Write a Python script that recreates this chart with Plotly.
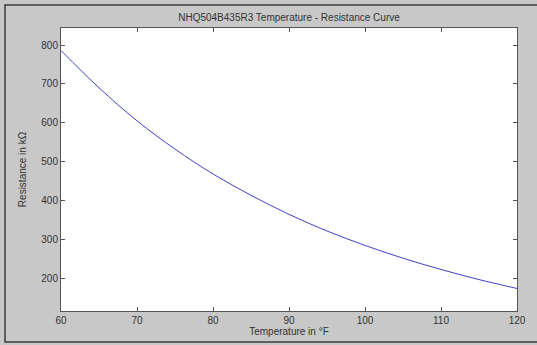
import plotly.graph_objects as go

# Temperature (°F) and resistance (kΩ)
temperature_f = [60, 65, 70, 75, 80, 85, 90, 95, 100, 105, 110, 115, 120]
resistance_kohm = [786, 690, 605, 532, 468, 413, 364, 321, 284, 251, 222, 196, 173]

x_ticks = [60, 70, 80, 90, 100, 110, 120]
y_ticks = [200, 300, 400, 500, 600, 700, 800]

W, H = 537, 345
L, R, T, B = 61, 20, 28, 34
pw, ph = W - L - R, H - T - B

def px(x):
    return (x - L) / pw

def py(y):
    return (H - B - y) / ph

fig = go.Figure()
fig.add_trace(go.Scatter(
    x=temperature_f, y=resistance_kohm, mode="lines",
    line=dict(color="#4040c8", width=1, shape="spline"),
    hoverinfo="x+y", showlegend=False,
))

font = dict(family="Liberation Sans, Arial, sans-serif", size=10, color="#333333")
axis_common = dict(
    showgrid=False, zeroline=False, showline=True, linecolor="#555555", linewidth=1,
    mirror="ticks", ticks="inside", ticklen=4, tickcolor="#555555",
    tickfont=font, automargin=False,
)

fig.update_layout(
    width=W, height=H,
    margin=dict(l=L, r=R, t=T, b=B, pad=0, autoexpand=False),
    paper_bgcolor="#c8c8c8", plot_bgcolor="#ffffff",
    title=dict(text="NHQ504B435R3 Temperature - Resistance Curve",
               x=(L + pw / 2) / W, xanchor="center", y=1 - 17 / H, yanchor="middle",
               font=dict(family="Liberation Sans, Arial, sans-serif", size=10, color="#333333")),
    xaxis=dict(range=[60, 120], tickvals=x_ticks, ticktext=[str(v) for v in x_ticks],
               title=dict(text="Temperature in °F", font=font, standoff=2),
               **axis_common),
    yaxis=dict(range=[115, 844], tickvals=y_ticks, ticktext=[str(v) for v in y_ticks],
               title=dict(text="Resistance in kΩ", font=font, standoff=12),
               **axis_common),
    shapes=[dict(type="rect", xref="paper", yref="paper",
                 x0=px(5), x1=px(545), y0=py(342), y1=py(5),
                 line=dict(color="#3c3c3c", width=1.5), fillcolor="rgba(0,0,0,0)", layer="below")],
)

fig.write_html("out.html", config={"displayModeBar": False},
               post_script="document.body.style.margin='0';document.body.style.overflow='hidden';")
